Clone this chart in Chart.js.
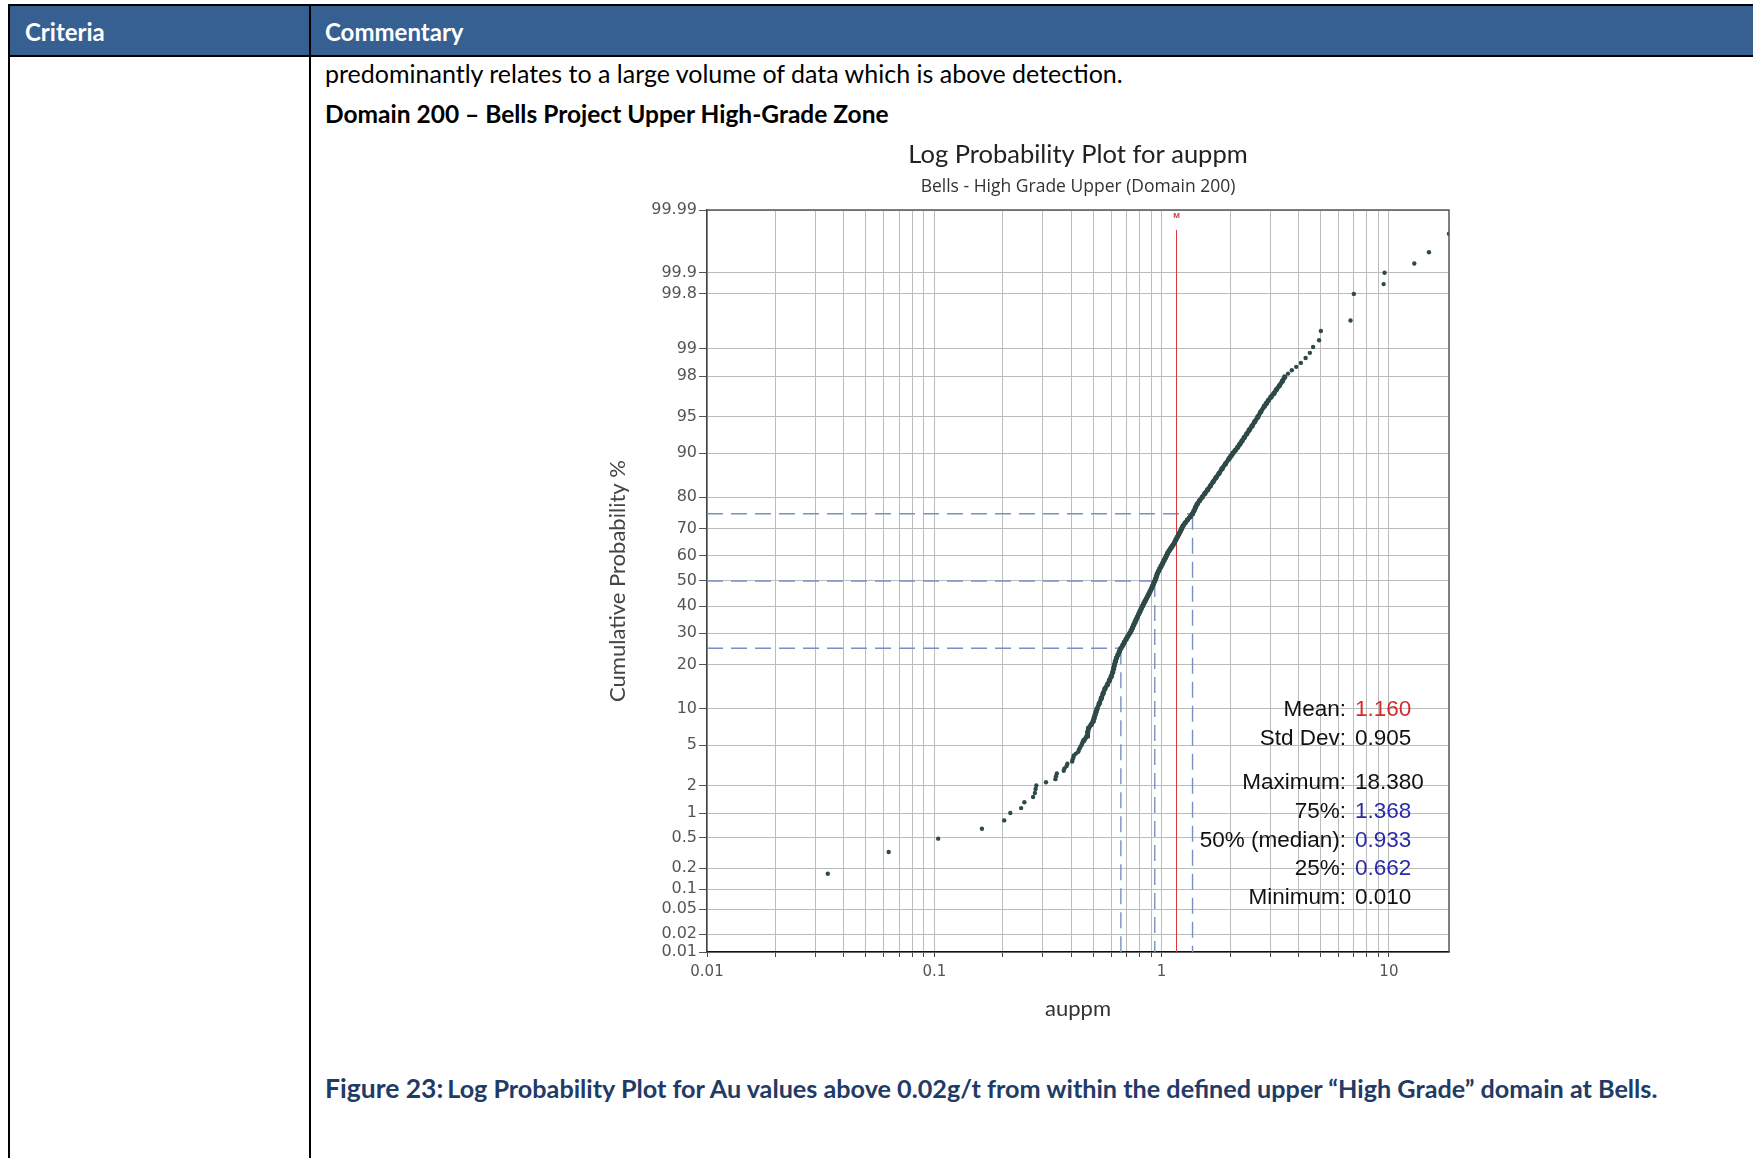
<!DOCTYPE html>
<html>
<head>
<meta charset="utf-8">
<script src="https://cdn.jsdelivr.net/npm/chart.js@4/dist/chart.umd.min.js"></script>
<style>
  html, body { margin: 0; padding: 0; background: #fff; }
  body { width: 1753px; height: 1158px; position: relative; overflow: hidden; font-family: Lato, "Open Sans", sans-serif; }
  .rule { position: absolute; background: #000; }
  .head { position: absolute; left: 9px; top: 6px; width: 1744px; height: 49px; background: #376092; }
  .txt { position: absolute; white-space: nowrap; line-height: 28px; }
  .head-txt { color: #fff; font-weight: bold; font-size: 24px; top: 18px; }
  #plot { position: absolute; left: 560px; top: 120px; }
</style>
</head>
<body>
  <div class="head"></div>
  <div class="rule" style="left:8px; top:4px; width:1745px; height:2px;"></div>
  <div class="rule" style="left:8px; top:55px; width:1745px; height:2px;"></div>
  <div class="rule" style="left:8px; top:4px; width:2px; height:1154px;"></div>
  <div class="rule" style="left:309px; top:4px; width:2px; height:1154px;"></div>

  <div class="txt head-txt" style="left:25px;">Criteria</div>
  <div class="txt head-txt" style="left:325px;">Commentary</div>
  <div class="txt" style="left:325px; top:59px; font-size:25px;">predominantly relates to a large volume of data which is above detection.</div>
  <div class="txt" style="left:325px; top:100px; font-size:24.5px; font-weight:bold;">Domain 200 – Bells Project Upper High-Grade Zone</div>
  <div class="txt" style="left:325px; top:1074px; font-weight:bold; color:#1f3b66;"><span style="font-size:26.5px;">Figure 23:</span> <span style="font-size:25.2px;">Log Probability Plot for Au values above 0.02g/t from within the defined upper “High Grade” domain at Bells.</span></div>

  <canvas id="plot" width="1036" height="920"></canvas>

<script>
/* ---- data ---- */
// cumulative probability axis labels (%)
const probTicks = [0.01, 0.02, 0.05, 0.1, 0.2, 0.5, 1, 2, 5, 10, 20, 30, 40, 50, 60, 70, 80, 90, 95, 98, 99, 99.8, 99.9, 99.99];
// labelled decades on the auppm axis
const xTickLabels = [0.01, 0.1, 1, 10];

// lower tail samples
const auppmLow = [0.034, 0.063, 0.104, 0.162, 0.203, 0.216, 0.241, 0.249, 0.272, 0.277, 0.279, 0.281, 0.31, 0.341, 0.343, 0.346,
  0.371, 0.374, 0.382, 0.385, 0.404, 0.406, 0.409, 0.411, 0.42, 0.43, 0.432, 0.436, 0.44, 0.445, 0.447, 0.45];
const probLow = [0.167, 0.33, 0.49, 0.65, 0.82, 1.0, 1.14, 1.33, 1.52, 1.68, 1.85, 2.02, 2.18, 2.35, 2.52, 2.68,
  2.85, 3.02, 3.18, 3.35, 3.52, 3.68, 3.85, 4.02, 4.18, 4.35, 4.52, 4.68, 4.85, 5.02, 5.18, 5.35];

// main body of the distribution
const auppmCore = [0.455, 0.47, 0.473, 0.477, 0.49, 0.5, 0.505, 0.51, 0.515, 0.52,
  0.532, 0.543, 0.553, 0.563, 0.578, 0.59, 0.601, 0.609, 0.615, 0.62,
  0.626, 0.633, 0.643, 0.652, 0.662, 0.675, 0.686, 0.698, 0.71, 0.724,
  0.735, 0.745, 0.754, 0.764, 0.773, 0.783, 0.793, 0.803, 0.813, 0.823,
  0.834, 0.845, 0.857, 0.869, 0.88, 0.891, 0.902, 0.912, 0.922, 0.933,
  0.942, 0.95, 0.958, 0.97, 0.983, 0.996, 1.01, 1.023, 1.037, 1.05,
  1.063, 1.08, 1.1, 1.12, 1.14, 1.155, 1.172, 1.19, 1.207, 1.225,
  1.242, 1.27, 1.3, 1.335, 1.368, 1.39, 1.41, 1.435, 1.47, 1.51,
  1.55, 1.595, 1.64, 1.685, 1.735, 1.79, 1.845, 1.91, 1.98, 2.02,
  2.06, 2.11, 2.16, 2.21, 2.26, 2.31, 2.37, 2.43, 2.5, 2.57,
  2.65, 2.73, 2.83, 2.89, 2.95, 3.03, 3.12, 3.2, 3.3, 3.4, 3.48];
const probCore = [5.5, 6, 6.5, 7, 7.5, 8, 8.5, 9, 9.5, 10,
  11, 12, 13, 14, 15, 16, 17, 18, 19, 20,
  21, 22, 23, 24, 25, 26, 27, 28, 29, 30,
  31, 32, 33, 34, 35, 36, 37, 38, 39, 40,
  41, 42, 43, 44, 45, 46, 47, 48, 49, 50,
  51, 52, 53, 54, 55, 56, 57, 58, 59, 60,
  61, 62, 63, 64, 65, 66, 67, 68, 69, 70,
  71, 72, 73, 74, 75, 76, 77, 78, 79, 80,
  81, 82, 83, 84, 85, 86, 87, 88, 89, 89.5,
  90, 90.5, 91, 91.5, 92, 92.5, 93, 93.5, 94, 94.5,
  95, 95.5, 96, 96.25, 96.5, 96.75, 97, 97.25, 97.5, 97.75, 97.96];

// upper tail samples
const auppmHigh = [3.6, 3.74, 3.91, 4.1, 4.3, 4.49, 4.64, 4.93, 5.02, 6.78, 7.01, 9.48, 9.57, 12.93, 15.0, 18.38];
const probHigh = [98.12, 98.27, 98.41, 98.56, 98.73, 98.89, 99.05, 99.21, 99.39, 99.55, 99.8, 99.854, 99.9, 99.927, 99.951, 99.975];

// summary statistics
const statLabels = ['Mean', 'Std Dev', 'Maximum', '75%', '50% (median)', '25%', 'Minimum'];
const statValues = [1.160, 0.905, 18.380, 1.368, 0.933, 0.662, 0.010];
const statColors = ['#d42a2a', '#111', '#111', '#2b2ba8', '#2b2ba8', '#2b2ba8', '#111'];
const quartileLevels = [75, 50, 25];

/* ---- normal distribution helpers ---- */
function probit(p) {
  // Acklam's inverse normal approximation
  const a = [-39.69683028665376, 220.9460984245205, -275.9285104469687, 138.3577518672690, -30.66479806614716, 2.506628277459239];
  const b = [-54.47609879822406, 161.5858368580409, -155.6989798598866, 66.80131188771972, -13.28068155288572];
  const c = [-0.007784894002430293, -0.3223964580411365, -2.400758277161838, -2.549732539343734, 4.374664141464968, 2.938163982698783];
  const d = [0.007784695709041462, 0.3224671290700398, 2.445134137142996, 3.754408661907416];
  const lo = 0.02425;
  if (p < lo) {
    const q = Math.sqrt(-2 * Math.log(p));
    return (((((c[0] * q + c[1]) * q + c[2]) * q + c[3]) * q + c[4]) * q + c[5]) / ((((d[0] * q + d[1]) * q + d[2]) * q + d[3]) * q + 1);
  }
  if (p > 1 - lo) {
    const q = Math.sqrt(-2 * Math.log(1 - p));
    return -(((((c[0] * q + c[1]) * q + c[2]) * q + c[3]) * q + c[4]) * q + c[5]) / ((((d[0] * q + d[1]) * q + d[2]) * q + d[3]) * q + 1);
  }
  const q = p - 0.5, r = q * q;
  return (((((a[0] * r + a[1]) * r + a[2]) * r + a[3]) * r + a[4]) * r + a[5]) * q / (((((b[0] * r + b[1]) * r + b[2]) * r + b[3]) * r + b[4]) * r + 1);
}

function normCdf(z) {
  const t = 1 / (1 + 0.2316419 * Math.abs(z));
  const poly = t * (0.319381530 + t * (-0.356563782 + t * (1.781477937 + t * (-1.821255978 + t * 1.330274429))));
  const tail = Math.exp(-z * z / 2) / Math.sqrt(2 * Math.PI) * poly;
  return z >= 0 ? 1 - tail : tail;
}

/* ---- probability (normal score) axis ---- */
class ProbabilityScale extends Chart.Scale {
  determineDataLimits() {
    this.min = this.options.min;
    this.max = this.options.max;
  }
  buildTicks() {
    return probTicks.map(value => ({ value }));
  }
  configure() {
    super.configure();
    this._zStart = probit(this.min / 100);
    this._zRange = probit(this.max / 100) - this._zStart;
  }
  getPixelForValue(value) {
    return this.getPixelForDecimal((probit(value / 100) - this._zStart) / this._zRange);
  }
  getValueForPixel(pixel) {
    return normCdf(this._zStart + this.getDecimalForPixel(pixel) * this._zRange) * 100;
  }
}
ProbabilityScale.id = 'probability';
ProbabilityScale.defaults = {};
Chart.register(ProbabilityScale);

/* ---- guides, frame and stats box ---- */
const guidesPlugin = {
  id: 'guides',
  beforeDatasetsDraw(chart) {
    const { ctx, chartArea: area, scales: { x, y } } = chart;
    ctx.save();

    // quartile crosshairs
    ctx.strokeStyle = '#7890c4';
    ctx.lineWidth = 1.4;
    ctx.setLineDash([16, 8]);
    quartileLevels.forEach((lvl, i) => {
      const px = x.getPixelForValue(statValues[3 + i]);
      const py = y.getPixelForValue(lvl);
      ctx.beginPath();
      ctx.moveTo(area.left, py);
      ctx.lineTo(px, py);
      ctx.stroke();
      ctx.beginPath();
      ctx.moveTo(px, py);
      ctx.lineTo(px, area.bottom);
      ctx.stroke();
    });

    // mean marker
    ctx.setLineDash([]);
    const mx = Math.round(x.getPixelForValue(statValues[0])) + 0.5;
    ctx.strokeStyle = '#d23a3a';
    ctx.lineWidth = 1;
    ctx.beginPath();
    ctx.moveTo(mx, area.top + 20);
    ctx.lineTo(mx, area.bottom);
    ctx.stroke();
    ctx.fillStyle = '#d23a3a';
    ctx.font = 'bold 8px "Liberation Sans"';
    ctx.textAlign = 'center';
    ctx.textBaseline = 'top';
    ctx.fillText('M', mx, area.top + 2);
    ctx.restore();
  },
  afterDraw(chart) {
    const { ctx, chartArea: area } = chart;
    ctx.save();

    // top / right frame
    ctx.strokeStyle = '#555';
    ctx.lineWidth = 1.5;
    ctx.beginPath();
    ctx.moveTo(area.left, area.top);
    ctx.lineTo(area.right, area.top);
    ctx.lineTo(area.right, area.bottom);
    ctx.stroke();

    // stats text
    ctx.font = '22.5px "Liberation Sans"';
    ctx.textBaseline = 'middle';
    const x0 = area.right - 103;
    statLabels.forEach((lab, i) => {
      const yy = area.top + 500 + i * 28.6 + (i >= 2 ? 16 : 0);
      ctx.textAlign = 'right';
      ctx.fillStyle = '#111';
      ctx.fillText(lab + ':', x0, yy);
      ctx.textAlign = 'left';
      ctx.fillStyle = statColors[i];
      ctx.fillText(statValues[i].toFixed(3), x0 + 9, yy);
    });
    ctx.restore();
  }
};

/* ---- chart ---- */
const toPoints = (xs, ps) => xs.map((v, i) => ({ x: v, y: ps[i] }));
const dotColor = '#2e4a48';

new Chart(document.getElementById('plot').getContext('2d'), {
  type: 'scatter',
  data: {
    datasets: [
      { data: toPoints(auppmCore, probCore), showLine: true, borderColor: dotColor, borderWidth: 4.5,
        backgroundColor: dotColor, pointRadius: 2.6, pointBorderWidth: 0 },
      { data: toPoints(auppmLow, probLow), backgroundColor: dotColor, pointRadius: 2.2, pointBorderWidth: 0 },
      { data: toPoints(auppmHigh, probHigh), backgroundColor: dotColor, pointRadius: 2.2, pointBorderWidth: 0 }
    ]
  },
  options: {
    responsive: false,
    devicePixelRatio: 1,
    animation: false,
    events: [],
    layout: { padding: { top: 0, left: 0, right: 0, bottom: 8 } },
    plugins: {
      legend: { display: false },
      tooltip: { enabled: false },
      title: {
        display: true,
        text: 'Log Probability Plot for auppm',
        color: '#222',
        font: { family: 'Lato', size: 25.5, weight: 'normal' },
        padding: { top: 19, bottom: 4 }
      },
      subtitle: {
        display: true,
        text: 'Bells - High Grade Upper (Domain 200)',
        color: '#333',
        font: { family: 'Open Sans', size: 17.5 },
        padding: { top: 3, bottom: 12.4 }
      }
    },
    scales: {
      x: {
        type: 'logarithmic',
        min: statValues[6],
        max: statValues[2],
        afterFit: s => { s.height = 80; },
        afterBuildTicks: s => {
          const ticks = [];
          xTickLabels.forEach(dec => {
            for (let m = 1; m <= 9; m++) {
              const v = m * dec;
              if (v <= s.max) ticks.push({ value: v });
            }
          });
          s.ticks = ticks;
        },
        ticks: {
          autoSkip: false,
          maxRotation: 0,
          padding: 6,
          color: '#555',
          font: { family: 'DejaVu Sans', size: 15 },
          callback: v => xTickLabels.find(t => Math.abs(t - v) < t * 1e-6) !== undefined ? String(v) : ''
        },
        grid: { color: '#bcbcbc', lineWidth: 1, tickColor: '#444', tickLength: 5 },
        border: { color: '#111', width: 1.5 },
        title: {
          display: true,
          text: 'auppm',
          color: '#333',
          font: { family: 'Lato', size: 22 },
          padding: { top: 0, bottom: 10 }
        }
      },
      y: {
        type: 'probability',
        min: 0.01,
        max: 99.99,
        afterFit: s => { s.width = 147; },
        ticks: {
          autoSkip: false,
          padding: 2,
          color: '#555',
          font: { family: 'DejaVu Sans', size: 16 },
          callback: v => String(v)
        },
        grid: { color: '#bcbcbc', lineWidth: 1, tickColor: '#555', tickLength: 8 },
        border: { color: '#444', width: 1.5 },
        title: {
          display: true,
          text: 'Cumulative Probability %',
          color: '#444',
          font: { family: 'Lato', size: 22 },
          padding: { top: 45, bottom: 0 }
        }
      },
      // empty right-hand gutter, same width as the y axis, keeps the titles centred over the plot
      gutter: {
        type: 'linear',
        position: 'right',
        afterFit: s => { s.width = 147; },
        ticks: { display: false },
        grid: { display: false, drawTicks: false },
        border: { display: false }
      }
    }
  },
  plugins: [guidesPlugin]
});
</script>
</body>
</html>
